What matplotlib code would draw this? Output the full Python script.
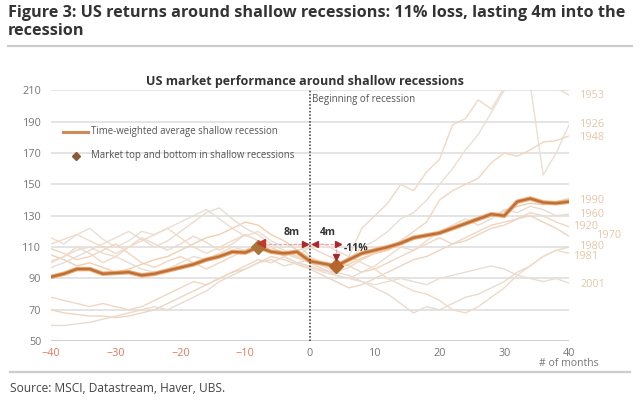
import matplotlib
matplotlib.use("Agg")
import matplotlib.pyplot as plt
from matplotlib.lines import Line2D
import numpy as np

plt.rcParams['font.family'] = ['Open Sans', 'DejaVu Sans']

months = list(range(-40, 41, 2))

avg = [91, 93, 96, 96, 93, 93.5, 94, 92, 93, 95, 97, 99, 102, 104, 107, 106.5, 110, 107, 106, 107,
       101, 99.5, 98, 102, 106, 108, 110, 112.5, 116, 117.5, 119, 122, 125, 128, 131, 130, 139, 141, 138.5, 138, 139]

series = {
    "1953": [101, 104, 110, 106, 100, 104, 110, 116, 112, 108, 112, 117, 113, 108, 112, 118, 114, 110, 106, 103,
             100, 96, 93, 104, 122, 130, 138, 150, 146, 158, 166, 188, 192, 204, 198, 212, 222, 226, 218, 212, 207],
    "1926": [116, 112, 118, 122, 115, 110, 114, 120, 118, 122, 126, 130, 134, 128, 122, 117, 120, 114, 110, 112,
             104, 100, 96, 102, 110, 114, 120, 128, 132, 140, 150, 160, 172, 182, 196, 210, 218, 214, 156, 170, 188],
    "1948": [109, 106, 102, 104, 108, 112, 106, 100, 97, 101, 104, 100, 96, 100, 104, 108, 112, 108, 104, 100,
             98, 95, 94, 97, 102, 106, 108, 114, 120, 126, 140, 146, 150, 154, 164, 170, 168, 172, 177, 178, 181],
    "1990": [105, 102, 98, 100, 97, 94, 96, 99, 102, 104, 108, 112, 116, 118, 122, 126, 124, 118, 114, 108,
             103, 99, 96, 99, 103, 106, 108, 112, 115, 117, 119, 122, 125, 127, 130, 133, 136, 138, 137, 139, 141],
    "1960": [97, 100, 104, 108, 112, 116, 120, 115, 110, 114, 120, 126, 132, 135, 128, 122, 118, 112, 108, 104,
             100, 96, 92, 90, 94, 98, 104, 110, 108, 114, 120, 124, 128, 124, 128, 134, 132, 136, 134, 130, 131],
    "1920": [78, 76, 74, 72, 74, 72, 70, 72, 76, 80, 84, 88, 86, 90, 94, 98, 102, 100, 104, 108,
             110, 106, 102, 98, 94, 96, 100, 104, 108, 112, 116, 112, 116, 120, 124, 126, 128, 132, 130, 126, 123],
    "1970": [70, 68, 67, 66, 66, 65, 66, 68, 70, 74, 78, 82, 86, 90, 94, 96, 100, 104, 102, 99,
             96, 92, 88, 84, 86, 90, 94, 98, 102, 104, 108, 112, 114, 118, 122, 124, 128, 130, 126, 122, 117],
    "1980": [60, 60, 61, 62, 64, 66, 68, 70, 72, 70, 74, 78, 82, 88, 92, 96, 100, 102, 98, 100,
             102, 98, 94, 92, 88, 84, 80, 74, 68, 72, 70, 74, 78, 80, 84, 88, 94, 98, 104, 108, 110],
    "1981": [112, 115, 118, 114, 110, 106, 110, 114, 118, 122, 116, 110, 106, 110, 114, 118, 114, 110, 106, 104,
             110, 112, 108, 104, 100, 96, 90, 86, 82, 80, 76, 70, 68, 72, 78, 84, 92, 98, 104, 108, 106],
    "2001": [100, 104, 108, 110, 106, 104, 100, 96, 94, 96, 100, 104, 102, 106, 110, 108, 112, 110, 104, 100,
             97, 94, 92, 90, 88, 86, 88, 90, 88, 86, 90, 92, 94, 96, 98, 96, 92, 90, 88, 90, 87],
}

label_pos = {"1953": (41.7, 207), "1926": (41.7, 188), "1948": (41.7, 180), "1990": (41.7, 140),
             "1960": (41.7, 131), "1920": (40.8, 123.4), "1970": (44.3, 117.7), "1980": (41.7, 110.7),
             "1981": (40.8, 104.3), "2001": (41.7, 86.4)}

line_colors = ['#efd9c8', '#eadfd5', '#f2d6bf', '#f1cfb2', '#e9dcd1', '#f0d7c3', '#edd5c1', '#e8dbd0',
               '#f2dac6', '#eaddd2']

top_pt = (-8, 110)
bottom_pt = (4, 98)

fig = plt.figure(figsize=(6.4, 4.11), dpi=100)
ax = fig.add_axes([0.0797, 0.170, 0.8094, 0.610])

for c, (name, vals) in zip(line_colors, series.items()):
    ax.plot(months, vals, color=c, lw=1.0, zorder=2)
    lx, ly = label_pos[name]
    ax.text(lx, ly, name, color='#e8c6a8', fontsize=7.8, va='center', ha='left', clip_on=False)

ax.plot(months, avg, color='#f3a768', lw=3.2, zorder=4, solid_capstyle='round')
ax.plot(months, avg, color='#b8703c', lw=1.7, zorder=5, solid_capstyle='round')

ax.set_xlim(-40, 40)
ax.set_ylim(50, 210)
ax.set_yticks(range(50, 211, 20))
ax.set_xticks(range(-40, 41, 10))
ax.grid(axis='y', color='#dcdcdc', lw=1.1)
ax.set_axisbelow(True)
for s in ax.spines.values():
    s.set_visible(False)
ax.axhline(50, color='#cfcfcf', lw=2.0, zorder=1)
ax.tick_params(axis='y', length=0, labelsize=7.8, colors='#777777', pad=7)
ax.tick_params(axis='x', length=0, labelsize=7.8, colors='#777777', pad=5)
for lab in ax.get_xticklabels():
    if lab.get_text().startswith('−') or lab.get_text().startswith('-'):
        lab.set_color('#e07b62')

# vertical recession start line
ax.axvline(0, color='#333333', lw=1.1, ls=(0, (1, 1.2)), zorder=6)
ax.text(0.35, 204, 'Beginning of recession', fontsize=7.0, color='#555555', va='center', ha='left')

# annotations
red = '#a8282d'
ax.plot([top_pt[0], 0], [112, 112], color='#e9a3a3', lw=0.8, ls=(0, (3, 1.5)), zorder=6)
ax.plot([0, bottom_pt[0]], [112, 112], color='#e9a3a3', lw=0.8, ls=(0, (3, 1.5)), zorder=6)
ax.plot([bottom_pt[0], bottom_pt[0]], [112, 101], color='#e9a3a3', lw=0.8, ls=(0, (3, 1.5)), zorder=6)
ax.plot([top_pt[0] + 0.4], [112.5], marker='<', color='#c0392b', ms=6, zorder=8, ls='none')
ax.plot([-0.7], [112], marker='>', color=red, ms=5, zorder=8, ls='none')
ax.plot([0.7], [112], marker='<', color=red, ms=5, zorder=8, ls='none')
ax.plot([bottom_pt[0] + 0.3], [112], marker='>', color=red, ms=5, zorder=8, ls='none')
ax.plot([bottom_pt[0]], [104], marker='v', color=red, ms=5, zorder=8, ls='none')
ax.plot([top_pt[0]], [top_pt[1]], marker='D', color='#a8743c', ms=7, zorder=7, ls='none')
ax.plot([bottom_pt[0]], [bottom_pt[1]], marker='D', color='#b5652e', ms=7, zorder=7, ls='none')
ax.text(-2.8, 119.5, '8m', fontsize=7.5, fontweight='bold', color='#333333', ha='center', va='center')
ax.text(2.8, 119.5, '4m', fontsize=7.5, fontweight='bold', color='#333333', ha='center', va='center')
ax.text(5.2, 108.8, '-11%', fontsize=7.5, fontweight='bold', color='#333333', ha='left', va='center')

# legend
ax.plot([-38.1, -34.3], [183.7, 183.7], color='#d08a55', lw=2.2, zorder=6)
ax.text(-33.8, 183.7, 'Time-weighted average shallow recession', fontsize=6.9, color='#555555', va='center')
ax.plot([-36.1], [168.2], marker='D', color='#8a5a3a', ms=4, ls='none', zorder=6)
ax.text(-33.8, 168.2, 'Market top and bottom in shallow recessions', fontsize=6.9, color='#555555', va='center')

ax.text(0.49, 1.01, 'US market performance around shallow recessions', transform=ax.transAxes,
        fontsize=9, fontweight='bold', color='#333333', ha='center', va='bottom')
ax.text(40, 39.2, '# of months', fontsize=7.5, color='#777777', ha='center', va='top', clip_on=False)

fig.text(0.0125, 0.988, 'Figure 3: US returns around shallow recessions: 11% loss, lasting 4m into the\nrecession',
         fontsize=11.7, fontweight='bold', color='#333333', ha='left', va='top', linespacing=1.2)
fig.add_artist(Line2D([0.0125, 0.988], [1 - 46 / 411, 1 - 46 / 411], color='#cccccc', lw=1.6))
fig.add_artist(Line2D([0.0156, 0.985], [1 - 372 / 411, 1 - 372 / 411], color='#cccccc', lw=1.6))
fig.text(0.0156, 1 - 388 / 411, 'Source: MSCI, Datastream, Haver, UBS.', fontsize=8.6, color='#444444',
         ha='left', va='center')

fig.savefig('out.png', dpi=100, facecolor='white')
